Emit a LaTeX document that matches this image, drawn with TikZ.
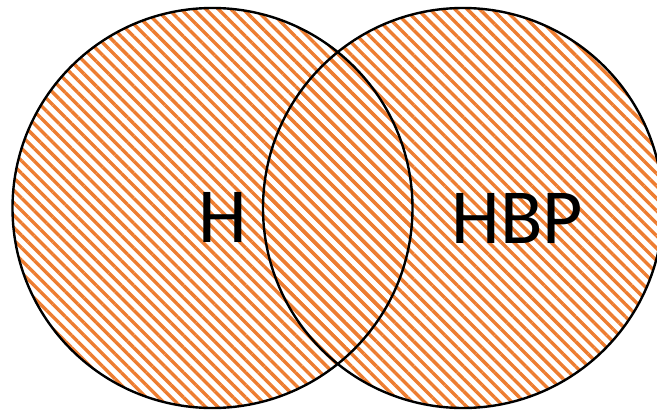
\documentclass[tikz,border=0pt]{standalone}
\usepackage{fontspec}
\setmainfont{Carlito}
\usetikzlibrary{patterns.meta}
\definecolor{hatchorange}{HTML}{ED7D31}

\begin{document}
\begin{tikzpicture}[
  x=1pt, y=-1pt,
  zone/.style={circle, inner sep=0pt, minimum size=400pt,
               pattern={Lines[angle=-45, distance=8.8pt, line width=3.4pt]},
               pattern color=hatchorange},
  rim/.style={draw=black, line width=2.4pt},
  tag/.style={anchor=base, inner sep=0pt, font=\fontsize{78}{80}\selectfont}
]
\useasboundingbox (0,0) rectangle (657,413);
% hatched sets
\node[zone] (hzone) at (212.5,208) {};
\node[zone] (bzone) at (463,208) {};
% outlines on top of both fills
\foreach \z in {hzone,bzone}
  \draw[rim] (\z.center) circle[radius=200pt];
% set names
\node[tag] (hname) at (223,242.5) {H};
\node[tag] (bname) at (517.5,243) {HBP};
\end{tikzpicture}
\end{document}
